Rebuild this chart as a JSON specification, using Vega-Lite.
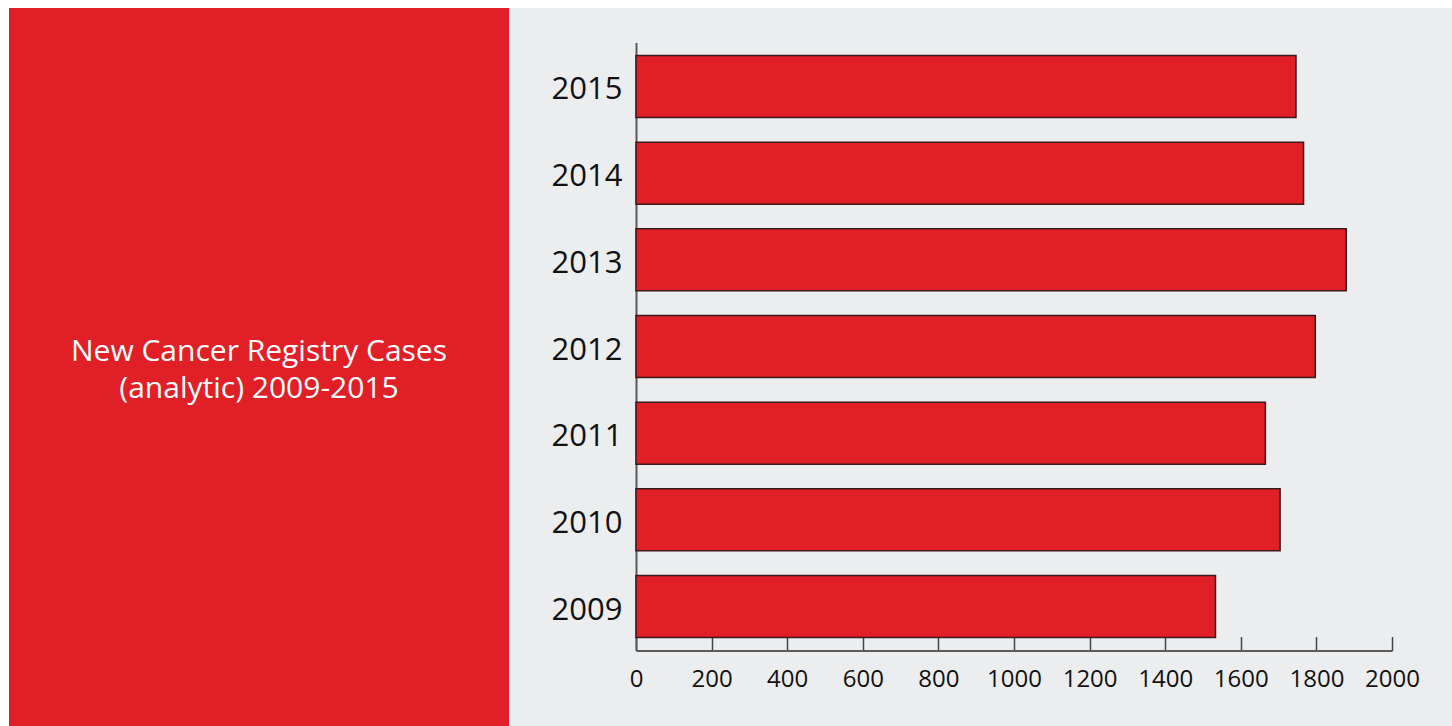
{
  "$schema": "https://vega.github.io/schema/vega-lite/v6.json",
  "background": "#ECEDEE",
  "padding": 0,
  "spacing": 0,
  "config": {"view": {"stroke": null}, "font": "Open Sans"},
  "datasets": {
    "cases": [
      {"year": 2015, "cases": 1746},
      {"year": 2014, "cases": 1766},
      {"year": 2013, "cases": 1879},
      {"year": 2012, "cases": 1797},
      {"year": 2011, "cases": 1665},
      {"year": 2010, "cases": 1704},
      {"year": 2009, "cases": 1533}
    ],
    "heading": [
      {"label": ["New Cancer Registry Cases", "(analytic) 2009-2015"]}
    ],
    "none": []
  },
  "vconcat": [
    {
      "width": 1452,
      "height": 8,
      "data": {"name": "none"},
      "mark": "point",
      "encoding": {},
      "view": {"fill": "white", "stroke": null}
    },
    {
      "spacing": 0,
      "center": true,
      "hconcat": [
        {
          "width": 9,
          "height": 718,
          "data": {"name": "none"},
          "mark": "point",
          "encoding": {},
          "view": {"fill": "white", "stroke": null}
        },
        {
          "width": 500,
          "height": 718,
          "data": {"name": "heading"},
          "mark": {"type": "text", "color": "white", "fontSize": 30, "lineHeight": 37, "align": "center", "baseline": "middle", "dy": -15, "font": "Open Sans"},
          "encoding": {"text": {"field": "label", "type": "nominal"}},
          "view": {"fill": "#E01F26", "stroke": null}
        },
        {
          "width": 756,
          "height": 608,
          "data": {"name": "cases"},
          "mark": {"type": "bar", "fill": "#E01F26", "stroke": "#3a1a1a", "strokeWidth": 1.5},
          "encoding": {
            "y": {
              "field": "year",
              "type": "ordinal",
              "sort": "descending",
              "scale": {"paddingInner": 0.285, "paddingOuter": 0.15},
              "axis": {
                "title": null,
                "ticks": false,
                "domainColor": "#5b5b5b",
                "domainWidth": 2,
                "labelFontSize": 31,
                "labelColor": "#111111",
                "labelPadding": 14,
                "labelOffset": 4,
                "minExtent": 127,
                "maxExtent": 127
              }
            },
            "x": {
              "field": "cases",
              "type": "quantitative",
              "scale": {"domain": [0, 2000], "nice": false},
              "axis": {
                "title": null,
                "grid": false,
                "format": "d",
                "values": [0, 200, 400, 600, 800, 1000, 1200, 1400, 1600, 1800, 2000],
                "domainColor": "#5b5b5b",
                "domainWidth": 2,
                "tickColor": "#444444",
                "tickWidth": 1.5,
                "tickSize": -14,
                "labelPadding": 31,
                "labelFontSize": 24,
                "labelColor": "#111111",
                "labelFlush": false,
                "minExtent": 40,
                "maxExtent": 40
              }
            }
          }
        }
      ]
    }
  ]
}
